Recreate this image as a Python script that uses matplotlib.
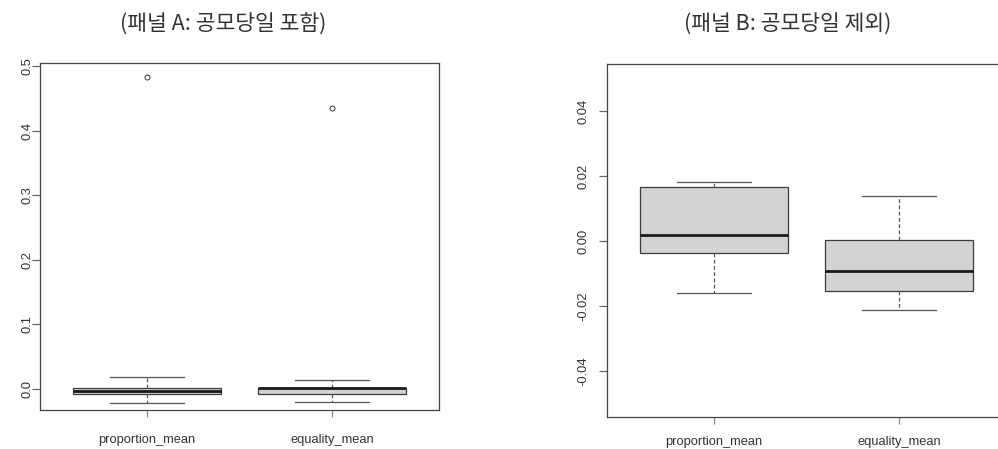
import matplotlib
matplotlib.use("Agg")
import matplotlib.pyplot as plt

plt.rcParams['font.family'] = ['Liberation Sans', 'DejaVu Sans']

# 변수 이름
categories = ["proportion_mean", "equality_mean"]

# 패널 A: 공모당일 포함 (whislo, q1, med, q3, whishi, outlier)
a_whislo = [-0.0215, -0.0205]
a_q1 = [-0.007, -0.008]
a_med = [-0.003, 0.001]
a_q3 = [0.002, 0.002]
a_whishi = [0.0186, 0.014]
a_fliers = [[0.483], [0.435]]

# 패널 B: 공모당일 제외
b_whislo = [-0.0159, -0.0212]
b_q1 = [-0.0038, -0.0154]
b_med = [0.0018, -0.0093]
b_q3 = [0.0165, 0.0003]
b_whishi = [0.0182, 0.0138]

titles = ["(패널 A: 공모당일 포함)", "(패널 B: 공모당일 제외)"]

W, H = 998, 449
fig = plt.figure(figsize=(W / 100, H / 100), dpi=100)


def px_axes(left, right, top, bottom):
    return fig.add_axes([left / W, 1 - bottom / H, (right - left) / W, (bottom - top) / H])


def stats(whislo, q1, med, q3, whishi, fliers=None):
    out = []
    for i, name in enumerate(categories):
        out.append({
            'label': name, 'whislo': whislo[i], 'q1': q1[i], 'med': med[i],
            'q3': q3[i], 'whishi': whishi[i],
            'fliers': fliers[i] if fliers else [],
        })
    return out


def draw(ax, st, ylim, yticks, ylabels, ypad, xpad):
    ax.bxp(st, positions=[1, 2], widths=0.8, patch_artist=True,
           boxprops=dict(facecolor='#d3d3d3', edgecolor='#3a3a3a', linewidth=0.9),
           medianprops=dict(color='#1a1a1a', linewidth=2.0, solid_capstyle='butt'),
           whiskerprops=dict(color='#555555', linewidth=0.9, linestyle=(0, (3, 2))),
           capprops=dict(color='#555555', linewidth=0.9),
           capwidths=0.4,
           flierprops=dict(marker='o', markersize=3.6, markerfacecolor='none',
                           markeredgecolor='#333333', markeredgewidth=0.7))
    ax.set_xlim(0.42, 2.58)
    ax.set_ylim(*ylim)
    ax.set_yticks(yticks)
    ax.set_yticklabels(ylabels, rotation=90, va='center')
    ax.set_xticks([1, 2])
    ax.set_xticklabels(categories)
    for s in ax.spines.values():
        s.set_color('#444444')
        s.set_linewidth(0.9)
    ax.tick_params(axis='y', length=5.5, width=0.9, color='#666666', pad=ypad,
                   labelsize=9.3, labelcolor='#333333')
    ax.tick_params(axis='x', length=5, width=0.9, color='#888888', pad=xpad,
                   labelsize=9.3, labelcolor='#333333')


axA = px_axes(40, 439, 63, 410)
draw(axA, stats(a_whislo, a_q1, a_med, a_q3, a_whishi, a_fliers),
     (-0.0325, 0.5047), [0.0, 0.1, 0.2, 0.3, 0.4, 0.5],
     ["0.0", "0.1", "0.2", "0.3", "0.4", "0.5"], -1.0, 12)

axB = px_axes(607, 1006, 64, 417)
draw(axB, stats(b_whislo, b_q1, b_med, b_q3, b_whishi),
     (-0.0542, 0.0545), [-0.04, -0.02, 0.0, 0.02, 0.04],
     ["-0.04", "-0.02", "0.00", "0.02", "0.04"], 7.0, 9)

fig.text(223 / W, 1 - 25 / H, titles[0], ha='center', va='center', fontsize=15.5,
         family=['Noto Sans CJK KR', 'DejaVu Sans'], color='#333333')
fig.text(788 / W, 1 - 25 / H, titles[1], ha='center', va='center', fontsize=15.5,
         family=['Noto Sans CJK KR', 'DejaVu Sans'], color='#333333')

fig.savefig("out.png", dpi=100)
